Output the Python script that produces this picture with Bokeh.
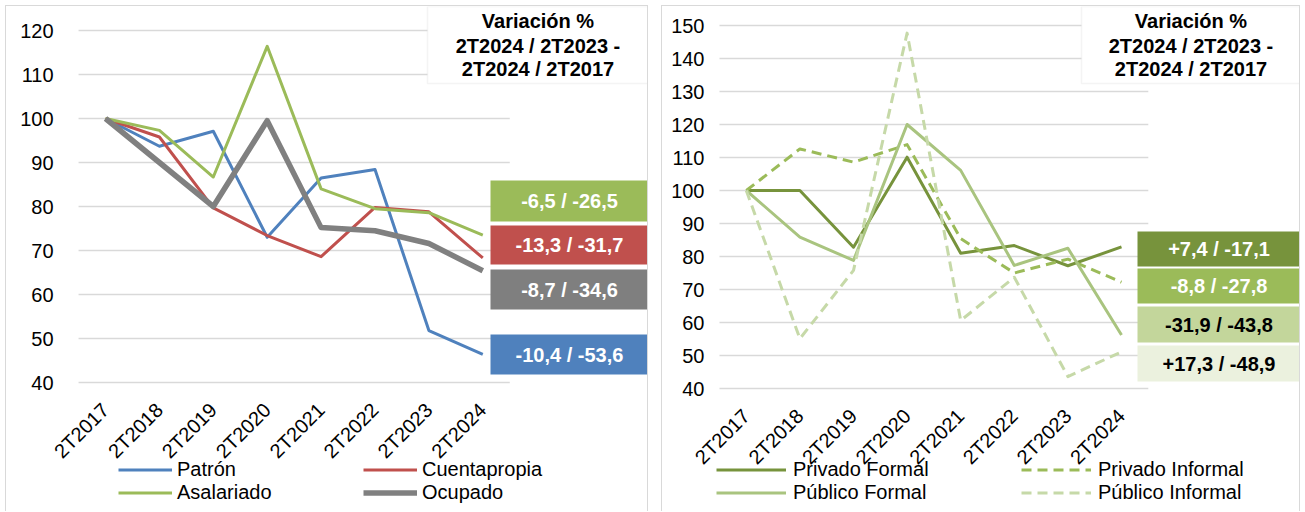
import math
from bokeh.plotting import figure
from bokeh.models import Range1d, FixedTicker, BoxAnnotation, Label, Legend, LegendItem
from bokeh.layouts import row
from bokeh.embed import file_html
from bokeh.resources import INLINE

# ---------------- data ----------------
categories = ["2T2017", "2T2018", "2T2019", "2T2020", "2T2021", "2T2022", "2T2023", "2T2024"]

patron = [100, 93.7, 97.1, 73.0, 86.5, 88.4, 51.8, 46.4]
cuentapropia = [100, 95.8, 79.7, 73.4, 68.6, 79.8, 78.8, 68.3]
asalariado = [100, 97.3, 86.7, 116.4, 84.0, 79.5, 78.6, 73.5]
ocupado = [100, 90.0, 80.0, 99.5, 75.2, 74.5, 71.6, 65.4]

privado_formal = [100, 100.0, 82.8, 110.1, 81.0, 83.3, 77.2, 82.9]
privado_informal = [100, 112.6, 108.6, 113.9, 85.4, 75.0, 79.2, 72.2]
publico_formal = [100, 85.9, 78.8, 120.0, 106.1, 77.3, 82.5, 56.2]
publico_informal = [100, 55.1, 75.8, 147.7, 60.6, 73.7, 43.6, 51.1]

left_ticks = [40, 50, 60, 70, 80, 90, 100, 110, 120]
right_ticks = [40, 50, 60, 70, 80, 90, 100, 110, 120, 130, 140, 150]

header_lines = ["Variación %", "2T2024 / 2T2023 -", "2T2024 / 2T2017"]
left_labels = ["-6,5 / -26,5", "-13,3 / -31,7", "-8,7 / -34,6", "-10,4 / -53,6"]
right_labels = ["+7,4 / -17,1", "-8,8 / -27,8", "-31,9 / -43,8", "+17,3 / -48,9"]

# ---------------- styles ----------------
FONT = "Liberation Sans"
GRID = "#D9D9D9"
x_idx = list(range(len(categories)))
BORDER = {"border-top": "1px solid #D9D9D9", "border-left": "1px solid #D9D9D9",
          "border-right": "1px solid #D9D9D9"}
FIG_H = 506


def make_fig(width, x0, x_end, y0, y1, ticks, y_standoff, margin):
    p = figure(width=width, height=FIG_H, x_range=Range1d(x0, x_end), y_range=Range1d(y0, y1),
               output_backend="svg", toolbar_location=None,
               min_border_left=0, min_border_right=1, min_border_top=0,
               min_border_bottom=0, styles=BORDER, margin=margin)
    p.outline_line_color = None
    p.background_fill_color = "white"
    p.border_fill_color = "white"
    p.xgrid.visible = False
    p.ygrid.visible = False
    # gridlines over the category span only
    p.segment(x0=[-0.5] * len(ticks), x1=[len(categories) - 0.5] * len(ticks), y0=ticks, y1=ticks,
              line_color=GRID, line_width=1.5)
    p.yaxis.ticker = FixedTicker(ticks=ticks)
    p.yaxis.fixed_location = -0.5
    p.xaxis.ticker = FixedTicker(ticks=x_idx)
    p.xaxis.fixed_location = ticks[0]
    p.xaxis.major_label_overrides = {i: c for i, c in enumerate(categories)}
    p.xaxis.major_label_orientation = math.pi / 4
    for ax in (p.xaxis[0], p.yaxis[0]):
        ax.axis_line_color = None
        ax.major_tick_line_color = None
        ax.minor_tick_line_color = None
        ax.major_label_text_font = FONT
        ax.major_label_text_font_size = "20px"
        ax.major_label_text_color = "#000000"
    p.xaxis.major_label_standoff = 18
    p.yaxis.major_label_standoff = y_standoff
    return p


def add_header(p, left, bottom, ys):
    xr = p.x_range
    p.add_layout(BoxAnnotation(left=left, right=xr.end, bottom=bottom, top=p.y_range.end,
                               fill_color="white", fill_alpha=1.0, line_color=GRID, line_width=1.5))
    cx = (left + xr.end) / 2
    for txt, yy in zip(header_lines, ys):
        p.add_layout(Label(x=cx, y=yy, text=txt, text_align="center", text_baseline="middle",
                           text_font=FONT, text_font_style="bold", text_font_size="20px",
                           text_color="#000000"))


def add_boxes(p, left, spans, fills, texts, text_colors):
    for (top, bot), fc, txt, tc in zip(spans, fills, texts, text_colors):
        p.add_layout(BoxAnnotation(left=left, right=p.x_range.end, bottom=bot, top=top,
                                   fill_color=fc, fill_alpha=1.0, line_color=None))
        p.add_layout(Label(x=(left + p.x_range.end) / 2, y=(top + bot) / 2, text=txt,
                           text_align="center", text_baseline="middle", text_font=FONT,
                           text_font_style="bold", text_font_size="20px", text_color=tc))


def make_legend(items, vx, glyph_w, label_w, standoff):
    return Legend(items=items, location=(vx, 8.5), orientation="vertical", nrows=2,
                  glyph_width=glyph_w, glyph_height=23, label_height=23, label_width=label_w,
                  label_standoff=standoff, spacing=0, padding=0, margin=0,
                  border_line_color=None, background_fill_alpha=0,
                  label_text_font=FONT, label_text_font_size="20px", label_text_color="#000000")


# ---------------- left panel ----------------
# page pixel layout: category 0 at x 105, 53.9 px per category; y=120 at page y 30, 4.4 px per unit
L_PX = 53.9
lx = lambda px: (px - 105) / L_PX
ly = lambda py: 120 - (py - 30) / 4.4
p1 = make_fig(643, lx(6), lx(648), ly(512), ly(6), left_ticks, 19, (5, 0, 0, 5))

left_series = [("Patrón", patron, "#4F81BD", 3), ("Cuentapropia", cuentapropia, "#C0504D", 3),
               ("Asalariado", asalariado, "#9BBB59", 3), ("Ocupado", ocupado, "#808080", 5.5)]
lr = {}
for name, vals, col, w in left_series:
    lr[name] = p1.line(x_idx, vals, line_color=col, line_width=w, line_join="round")

add_header(p1, lx(427), ly(83), [ly(20), ly(45), ly(68)])
add_boxes(p1, lx(490),
          [(ly(180), ly(221)), (ly(225), ly(264)), (ly(269), ly(309)), (ly(334), ly(374))],
          ["#9BBB59", "#C0504D", "#7F7F7F", "#4F81BD"], left_labels, ["white"] * 4)

p1.add_layout(make_legend([LegendItem(label=n, renderers=[lr[n]]) for n in
                           ["Patrón", "Asalariado", "Cuentapropia", "Ocupado"]],
                          118 - 6, 54, 186, 5))

# ---------------- right panel ----------------
R_PX = 53.6
rx = lambda px: (px - 747.8) / R_PX
ry = lambda py: 150 - (py - 25) / 3.3
p2 = make_fig(639, rx(664), rx(1302), ry(512), ry(6), right_ticks, 9, (5, 0, 0, 13))

right_series = [("Privado Formal", privado_formal, "#77933C", None),
                ("Privado Informal", privado_informal, "#9BBB59", "10 6"),
                ("Público Formal", publico_formal, "#A9C47F", None),
                ("Público Informal", publico_informal, "#C6D9A8", "10 6")]
rr = {}
for name, vals, col, dash in right_series:
    kw = dict(line_color=col, line_width=3, line_join="round")
    if dash:
        kw["line_dash"] = dash
    rr[name] = p2.line(x_idx, vals, **kw)

add_header(p2, rx(1083), ry(83), [ry(20), ry(45), ry(68)])
add_boxes(p2, rx(1139),
          [(ry(231), ry(266)), (ry(268), ry(303)), (ry(306), ry(342)), (ry(345), ry(381))],
          ["#77933C", "#9BBB59", "#C3D69B", "#EBF1DE"], right_labels,
          ["white", "white", "#000000", "#000000"])

p2.add_layout(make_legend([LegendItem(label=n, renderers=[rr[n]]) for n in
                           ["Privado Formal", "Público Formal", "Privado Informal", "Público Informal"]],
                          718 - 664, 70, 228, 7))

layout = row(p1, p2, spacing=0)
open("out.html", "w").write(file_html(layout, INLINE))
